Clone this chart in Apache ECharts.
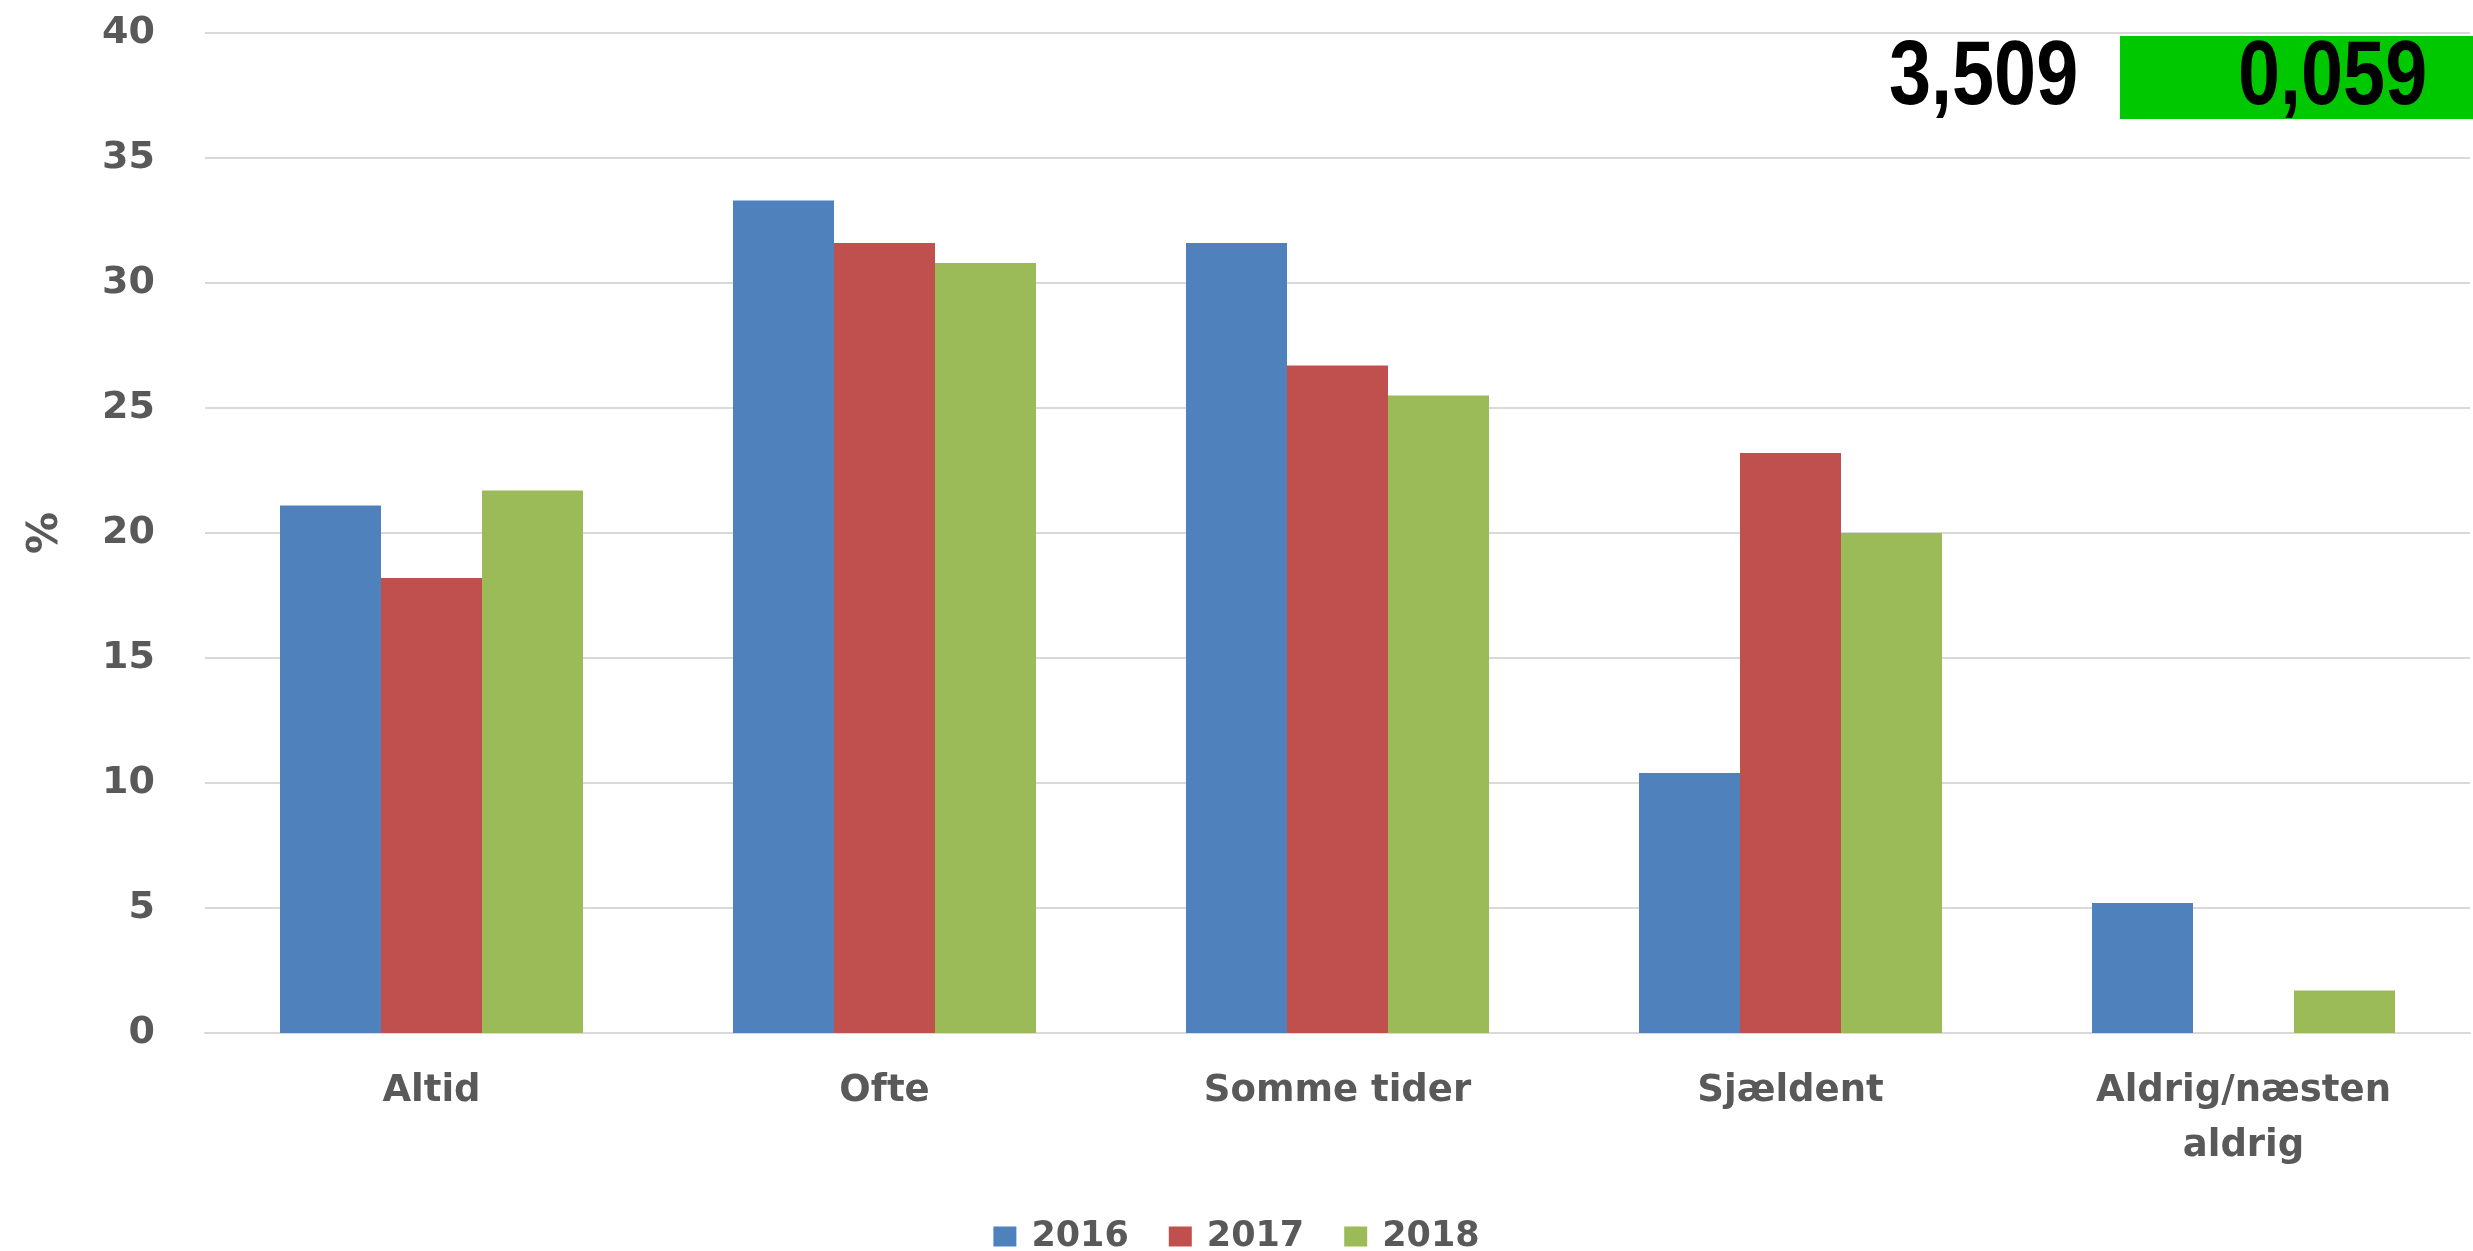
<!DOCTYPE html>
<html>
<head>
<meta charset="utf-8">
<script src="https://cdn.jsdelivr.net/npm/echarts@6/dist/echarts.min.js"></script>
<style>
html,body{margin:0;padding:0;background:#fff;}
#chart{width:2473px;height:1251px;}
</style>
</head>
<body>
<div id="chart"></div>
<script>
const categories = ['Altid', 'Ofte', 'Somme tider', 'Sjældent', 'Aldrig/næsten\naldrig'];
const seriesNames = ['2016', '2017', '2018'];
const values2016 = [21.1, 33.3, 31.6, 10.4, 5.2];
const values2017 = [18.2, 31.6, 26.7, 23.2, 0];
const values2018 = [21.7, 30.8, 25.5, 20.0, 1.7];
const yTicks = { min: 0, max: 40, interval: 5 };
const yAxisName = '%';
const boxLeftText = '3,509';
const boxRightText = '0,059';

const colors = ['#4f81bd', '#c0504d', '#9bbb59'];
const labelFont = 'DejaVu Sans';
const boxFont = '"Liberation Sans", Arial, sans-serif';
const chart = echarts.init(document.getElementById('chart'), null, { renderer: 'canvas' });

const allValues = [values2016, values2017, values2018];

chart.setOption({
  animation: false,
  backgroundColor: '#ffffff',
  color: colors,
  grid: { left: 205, right: 3, top: 33, bottom: 218, containLabel: false },
  legend: {
    data: seriesNames,
    left: 'center',
    top: 1214,
    itemWidth: 23,
    itemHeight: 20,
    itemGap: 40,
    icon: 'rect',
    textStyle: { fontFamily: labelFont, fontWeight: 'bold', fontSize: 35, color: '#595959', padding: [0, 0, 0, 10] }
  },
  xAxis: {
    type: 'category',
    data: categories,
    axisLine: { lineStyle: { color: '#d9d9d9', width: 2 } },
    axisTick: { show: false },
    axisLabel: {
      fontFamily: labelFont, fontWeight: 'bold', fontSize: 37, color: '#595959',
      margin: 31, lineHeight: 55, interval: 0
    }
  },
  yAxis: {
    type: 'value',
    min: yTicks.min, max: yTicks.max, interval: yTicks.interval,
    name: yAxisName,
    nameLocation: 'middle',
    nameGap: 138,
    nameRotate: 90,
    nameTextStyle: { fontFamily: labelFont, fontWeight: 'bold', fontSize: 42, color: '#595959' },
    axisLine: { show: false },
    axisTick: { show: false },
    splitLine: { lineStyle: { color: '#d9d9d9', width: 2 } },
    axisLabel: { fontFamily: labelFont, fontWeight: 'bold', fontSize: 38, color: '#595959', margin: 50 }
  },
  series: seriesNames.map((name, i) => ({
    name: name,
    type: 'bar',
    data: allValues[i],
    barWidth: 101,
    barGap: '0%',
    itemStyle: { color: colors[i] }
  })),
  graphic: [
    { type: 'rect', left: 2120, top: 36, shape: { width: 353, height: 83 }, style: { fill: '#00c800' }, z: 100 },
    { type: 'text', x: 1889, y: 34, scaleX: 0.84, style: { text: boxLeftText, fontFamily: boxFont, fontWeight: 'bold', fontSize: 90, fill: '#000' }, z: 101 },
    { type: 'text', x: 2238, y: 34, scaleX: 0.84, style: { text: boxRightText, fontFamily: boxFont, fontWeight: 'bold', fontSize: 90, fill: '#000' }, z: 101 }
  ]
});
</script>
</body>
</html>
